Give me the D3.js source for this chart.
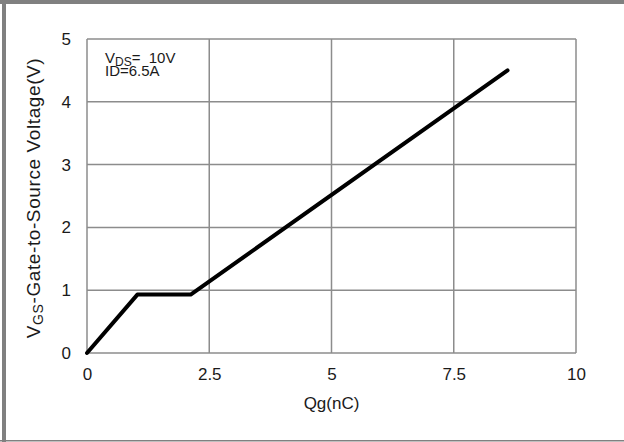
<!DOCTYPE html>
<html>
<head>
<meta charset="utf-8">
<script src="https://cdn.jsdelivr.net/npm/d3@7"></script>
<style>
  body { margin: 0; background: #fff; }
  text { font-family: "Liberation Sans", Arial, sans-serif; fill: #1a1a1a; }
</style>
</head>
<body>
<div class="chart"></div>
<script>
// data
const qg = [0, 1.03, 2.12, 8.6];
const vgs = [0, 0.93, 0.93, 4.5];
const xTicks = [0, 2.5, 5, 7.5, 10];
const yTicks = [0, 1, 2, 3, 4, 5];

const W = 624, H = 442;
const margin = ({top: 39, right: 48, bottom: 89, left: 87});
const width = W - margin.left - margin.right;
const height = H - margin.top - margin.bottom;

const root = d3.select(".chart")
    .append("svg")
    .attr("width", W)
    .attr("height", H);

// gray frame (top, left, bottom)
root.append("rect").attr("x", 0).attr("y", 0).attr("width", W).attr("height", 4).attr("fill", "#808080");
root.append("rect").attr("x", 2).attr("y", 0).attr("width", 4).attr("height", H).attr("fill", "#808080");
root.append("rect").attr("x", 0).attr("y", 440).attr("width", W).attr("height", 1.5).attr("fill", "#808080");

const svg = root.append("g")
    .attr("transform", `translate(${margin.left},${margin.top})`);

const xScale = d3.scaleLinear()
    .domain([0, 10])
    .range([0, width]);

const yScale = d3.scaleLinear()
    .domain([0, 5])
    .range([height, 0]);

const xAxis = d3.axisBottom(xScale)
    .tickValues(xTicks)
    .tickSize(0)
    .tickPadding(15)
    .tickFormat(d => d);

const yAxis = d3.axisLeft(yScale)
    .tickValues(yTicks)
    .tickSize(0)
    .tickPadding(16)
    .tickFormat(d => d);

// grid
svg.append("g")
    .selectAll("line")
    .data(xTicks)
    .join("line")
    .attr("x1", d => xScale(d)).attr("x2", d => xScale(d))
    .attr("y1", 0).attr("y2", height)
    .attr("stroke", "#8c8c8c")
    .attr("stroke-width", 1.5);

svg.append("g")
    .selectAll("line")
    .data(yTicks)
    .join("line")
    .attr("x1", 0).attr("x2", width)
    .attr("y1", d => yScale(d)).attr("y2", d => yScale(d))
    .attr("stroke", "#8c8c8c")
    .attr("stroke-width", 1.5);

svg.append("g")
    .attr("transform", `translate(0,${height})`)
    .call(xAxis)
    .call(g => g.select(".domain").remove())
    .call(g => g.selectAll("text").attr("font-size", 17).attr("font-family", null));

svg.append("g")
    .call(yAxis)
    .call(g => g.select(".domain").remove())
    .call(g => g.selectAll("text").attr("font-size", 17).attr("font-family", null));

// curve
const line = d3.line()
    .x((d, i) => xScale(qg[i]))
    .y(d => yScale(d));

svg.append("path")
    .datum(vgs)
    .attr("fill", "none")
    .attr("stroke", "black")
    .attr("stroke-width", 4)
    .attr("stroke-linejoin", "round")
    .attr("stroke-linecap", "round")
    .attr("d", line);

// annotation
const note = svg.append("text")
    .attr("x", 18)
    .attr("y", 24)
    .attr("font-size", 15);
note.append("tspan").text("V");
note.append("tspan").attr("font-size", 12).attr("dy", 3).text("DS");
note.append("tspan").attr("dy", -3).text("=\u00a0 10V");

svg.append("text")
    .attr("x", 18)
    .attr("y", 37)
    .attr("font-size", 15)
    .text("ID=6.5A");

// axis titles
svg.append("text")
    .attr("x", width / 2)
    .attr("y", height + 56)
    .attr("text-anchor", "middle")
    .attr("font-size", 17)
    .text("Qg(nC)");

const yt = svg.append("text")
    .attr("transform", `translate(-47,${yScale(2.5) + 2}) rotate(-90)`)
    .attr("text-anchor", "middle")
    .attr("font-size", 19)
    .attr("letter-spacing", 0.6);
yt.append("tspan").text("V");
yt.append("tspan").attr("font-size", 14).attr("dy", 3).text("GS");
yt.append("tspan").attr("dy", -3).text("-Gate-to-Source Voltage(V)");
</script>
</body>
</html>
